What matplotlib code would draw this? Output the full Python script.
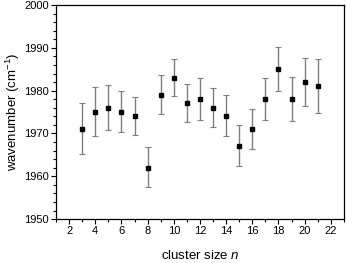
import matplotlib
matplotlib.use('Agg')
import matplotlib.pyplot as plt
from matplotlib.ticker import MultipleLocator

plt.rcParams['font.family'] = ['Liberation Sans', 'DejaVu Sans']
plt.rcParams['mathtext.fontset'] = 'custom'
plt.rcParams['mathtext.rm'] = 'Liberation Sans'
plt.rcParams['mathtext.it'] = 'Liberation Sans:italic'

n = [3, 4, 5, 6, 7, 8, 9, 10, 11, 12, 13, 14, 15, 16, 17, 18, 19, 20, 21]
wavenumber = [1971, 1975, 1976, 1975, 1974, 1962, 1979, 1983, 1977, 1978,
              1976, 1974, 1967, 1971, 1978, 1985, 1978, 1982, 1981]
err_up = [6.0, 5.8, 5.3, 4.9, 4.5, 4.8, 4.6, 4.4, 4.5, 4.9,
          4.5, 5.0, 4.9, 4.8, 5.0, 5.2, 5.2, 5.7, 6.3]
err_down = [5.9, 5.6, 5.2, 4.7, 4.4, 4.5, 4.5, 4.3, 4.3, 4.9,
            4.4, 4.7, 4.6, 4.7, 4.9, 5.2, 5.1, 5.5, 6.2]

fig = plt.figure(figsize=(3.46, 2.63), dpi=100)
ax = fig.add_axes([0.162, 0.167, 0.832, 0.814])

ax.errorbar(n, wavenumber, yerr=[err_down, err_up], fmt='s', color='black',
            ms=3.5, ecolor='#7f7f7f', elinewidth=1, capsize=2, capthick=0.8)

ax.set_xlim(1, 23)
ax.set_ylim(1950, 2000)
ax.xaxis.set_major_locator(MultipleLocator(2))
ax.xaxis.set_minor_locator(MultipleLocator(1))
ax.yaxis.set_major_locator(MultipleLocator(10))
ax.yaxis.set_minor_locator(MultipleLocator(2))
ax.tick_params(which='both', direction='out', labelsize=8, width=0.8)
ax.tick_params(which='major', length=3.5, pad=1.5)
ax.tick_params(which='minor', length=2)
for s in ax.spines.values():
    s.set_linewidth(0.9)

ax.set_xlabel('cluster size $\\it{n}$', fontsize=9.5, labelpad=9)
ax.set_ylabel('wavenumber (cm$^{-1}$)', fontsize=9.5, labelpad=2)

fig.savefig('out.png', dpi=100)
